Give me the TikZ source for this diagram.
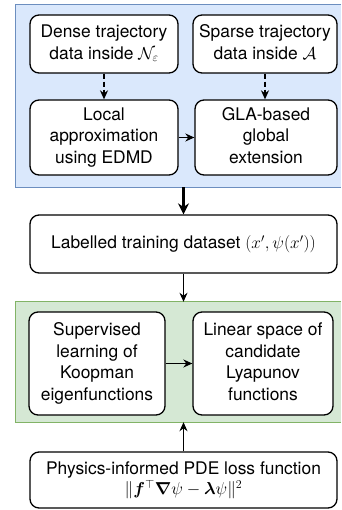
\documentclass[tikz,border=0pt]{standalone}
\usepackage{amsmath}
\usepackage{bm}
\usepackage{fontspec}
\setmainfont{TeX Gyre Heros}
\usepackage{tikz}
\usetikzlibrary{arrows.meta,positioning}
\definecolor{blueback}{HTML}{DAE8FC}
\definecolor{blueline}{HTML}{6C8EBF}
\definecolor{greenback}{HTML}{D5E8D4}
\definecolor{greenline}{HTML}{82B366}
\tikzstyle{process} = [rectangle, rounded corners=9pt, text centered, draw=black, fill=white, line width=1.3pt, inner sep=2pt, font=\fontsize{17.4}{21.5}\selectfont]
\tikzstyle{stage} = [rectangle, inner sep=0pt]
\tikzstyle{arrow} = [line width=1.3pt,-{Stealth[length=9pt,width=8pt]}]
\tikzstyle{bigarrow} = [line width=2.4pt,-{Stealth[length=11pt,width=11pt]}]
\tikzstyle{dasharrow} = [arrow,dash pattern=on 5pt off 3pt]

\begin{document}
\begin{tikzpicture}[x=1pt,y=1pt]
 \useasboundingbox (0,0) rectangle (341,-510);
 \fill[white] (0,0) rectangle (341,-510);
% coloured stages (open on the right)
 \node[stage,fill=blueback,minimum width=325pt,minimum height=182pt] (datastage) at (178.5,-96) {};
 \node[stage,fill=greenback,minimum width=325pt,minimum height=120pt] (learnstage) at (178.5,-362) {};
 \draw[blueline,line width=1.1pt] (datastage.north east) -- (datastage.north west)
                                  -- (datastage.south west) -- (datastage.south east);
 \draw[greenline,line width=1.1pt] (learnstage.north east) -- (learnstage.north west)
                                   -- (learnstage.south west) -- (learnstage.south east);
% boxes
 \node[process,minimum width=148pt,minimum height=58pt] (dense) at (104,-44)
              {\begin{tabular}{@{}c@{}}Dense trajectory\\data inside $\mathcal{N}_\varepsilon$\end{tabular}};
 \node[process,minimum width=144pt,minimum height=58pt] (sparse) at (dense) [xshift=161pt]
              {\begin{tabular}{@{}c@{}}Sparse trajectory\\data inside $\mathcal{A}$\end{tabular}};
 \node[process,minimum width=148pt,minimum height=75pt] (local) at (dense) [yshift=-93.5pt]
              {\begin{tabular}{@{}c@{}}Local\\approximation\\using EDMD\end{tabular}};
 \node[process,minimum width=142pt,minimum height=75pt] (gla) at (local) [xshift=162pt]
              {\begin{tabular}{@{}c@{}}GLA-based\\global\\extension\end{tabular}};
 \node[process,minimum width=307pt,minimum height=58pt] (dataset) at (183.5,-244)
              {Labelled training dataset $(x',\psi(x'))$};
 \node[process,minimum width=136pt,minimum height=103pt] (supervised) at (97,-363.5)
              {\begin{tabular}{@{}c@{}}Supervised\\learning of\\Koopman\\eigenfunctions\end{tabular}};
 \node[process,minimum width=140pt,minimum height=103pt] (lyapunov) at (supervised) [xshift=166pt]
              {\begin{tabular}{@{}c@{}}Linear space of\\candidate\\Lyapunov\\functions\end{tabular}};
 \node[process,minimum width=307pt,minimum height=56pt] (pdeloss) at (183.5,-480)
              {\begin{tabular}{@{}c@{}}Physics-informed PDE loss function\\[-1pt]$\|\bm{f}^{\top}\bm{\nabla}\psi-\bm{\lambda}\psi\|^2$\end{tabular}};
% arrows
 \draw[dasharrow] (dense) -- (local);
 \draw[dasharrow] (sparse.south) -- (sparse.south |- gla.north);
 \draw[arrow] (local) -- (gla);
 \draw[bigarrow] (datastage.south -| dataset.north) -- (dataset.north);
 \draw[arrow] (dataset.south) -- (dataset.south |- learnstage.north);
 \draw[arrow] (supervised) -- (lyapunov);
 \draw[arrow] (pdeloss.north) -- (pdeloss.north |- learnstage.south);
\end{tikzpicture}
\end{document}
